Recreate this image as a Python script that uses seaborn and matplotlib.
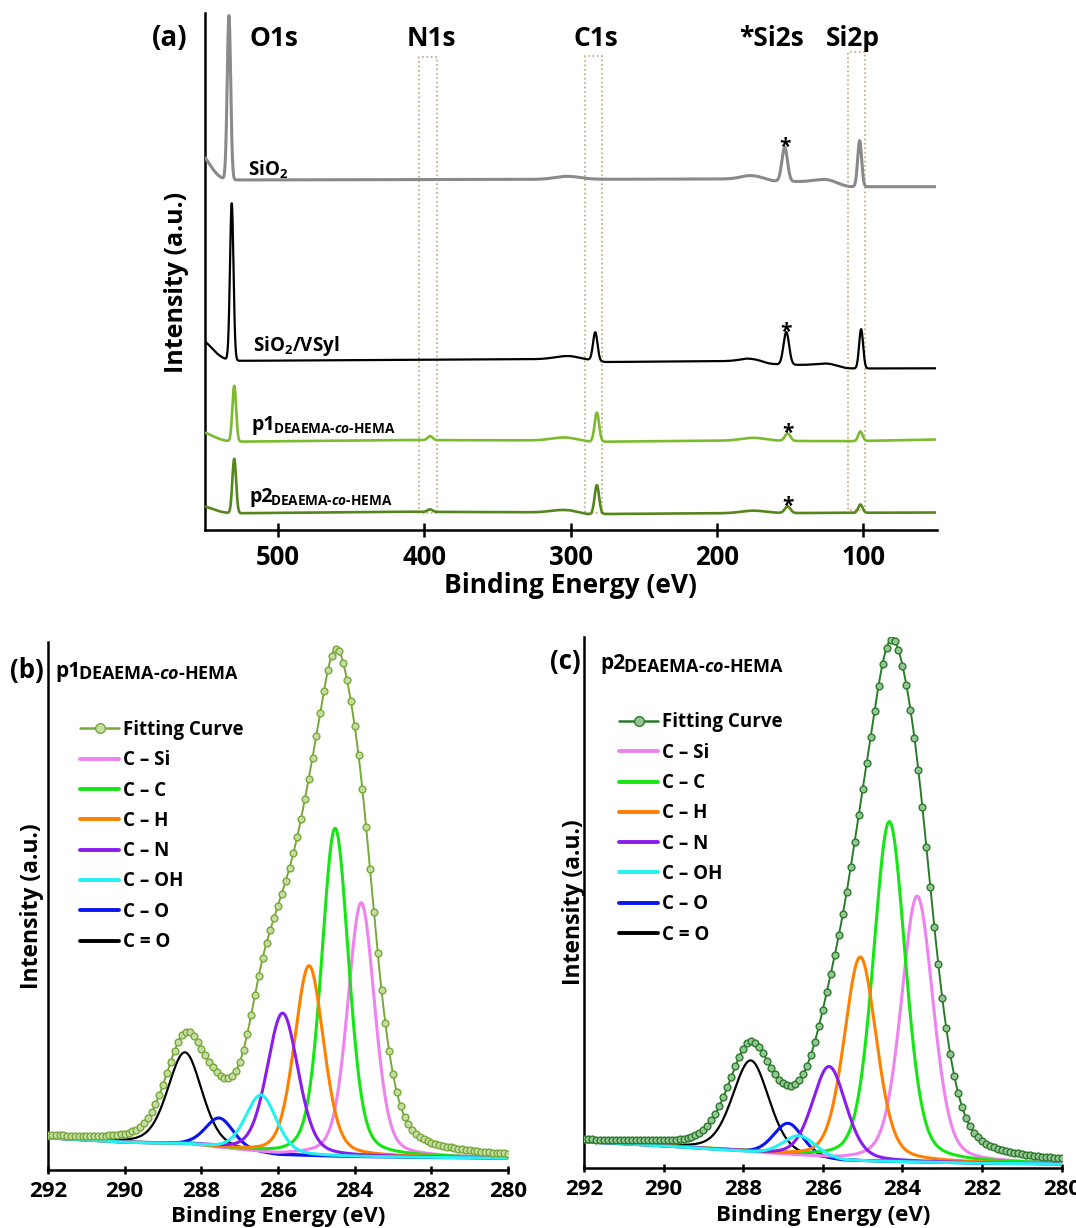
import numpy as np
import pandas as pd
import matplotlib
matplotlib.use("Agg")
import matplotlib.pyplot as plt
import seaborn as sns
from matplotlib.lines import Line2D
from matplotlib.patches import Rectangle

sns.set_theme(style="white")
plt.rcParams.update({
    "font.family": ["Open Sans", "DejaVu Sans"],
    "font.weight": "bold",
    "axes.labelweight": "bold",
    "mathtext.fontset": "custom",
    "mathtext.rm": "Open Sans:bold",
    "mathtext.bf": "Open Sans:bold",
    "mathtext.it": "Open Sans:italic:bold",
    "axes.edgecolor": "black",
    "axes.linewidth": 1.8,
    "xtick.color": "black",
    "text.color": "black",
    "axes.labelcolor": "black",
})

# ---------------------------------------------------------------- survey (a)
# baseline anchors (binding energy eV, intensity) and peaks (centre, height, FWHM)
sio2_bg_e = [550, 180, 163, 135, 110, 50]
sio2_bg_i = [350, 351, 348.5, 348.5, 343.3, 343.3]
sio2_pk_e = [553, 533.3, 302, 175, 153.7, 124.7, 102.5]
sio2_pk_h = [25, 164, 3, 4, 34, 4, 46]
sio2_pk_w = [16, 2.8, 20, 18, 4.5, 15, 3.2]

vsyl_bg_e = [550, 300, 290, 276, 180, 165, 135, 112, 50]
vsyl_bg_i = [169, 171, 170, 168, 169, 165.5, 165, 161.5, 161.7]
vsyl_pk_e = [553, 531.4, 302, 283.1, 175, 152.6, 124, 101.5]
vsyl_pk_h = [21, 157, 3, 28.5, 3, 32.5, 3, 39.3]
vsyl_pk_w = [19, 2.8, 20, 3.6, 18, 4.5, 15, 3.2]

p1_bg_e = [550, 530, 420, 300, 288, 278, 200, 110, 50]
p1_bg_i = [88, 88.3, 90, 89.5, 88.3, 88.3, 89.3, 88.8, 90.5]
p1_pk_e = [553, 529.7, 395.9, 304.8, 282.0, 175, 151.7, 102.0]
p1_pk_h = [10, 55.7, 4, 3, 29, 3, 7.4, 9.5]
p1_pk_w = [20, 3.0, 4, 20, 3.6, 20, 4.5, 3.5]

p2_bg_e = [550, 530, 420, 300, 288, 278, 200, 50]
p2_bg_i = [16, 16.7, 18.3, 17.5, 15.5, 16, 16.7, 17.5]
p2_pk_e = [553, 529.7, 396.0, 305.0, 282.0, 175, 151.7, 102.0]
p2_pk_h = [8, 54.3, 2.5, 2.5, 29, 2.5, 6.6, 8.3]
p2_pk_w = [20, 3.0, 4, 20, 3.6, 20, 4.5, 3.5]

survey_colors = ["#8a8a8a", "#000000", "#7cbb2e", "#55861c"]
survey_lw = [2.2, 1.6, 1.9, 1.9]
si2s_index = [4, 5, 6, 6]

peak_names = ["O1s", "N1s", "C1s", "*Si2s", "Si2p"]
peak_name_e = [502.5, 395.0, 282.8, 163.0, 107.4]
# dotted marker boxes: (low eV, high eV, bottom, top)
box_lo = [391.0, 278.3, 98.6]
box_hi = [403.4, 290.0, 110.2]
box_bottom = [17, 17, 20]
box_top = [473.3, 474.3, 477.7]

# ---------------------------------------------------------------- C1s fits (b), (c)
comp_labels = ["C – Si", "C – C", "C – H", "C – N", "C – OH", "C – O", "C = O"]
comp_colors = ["#ee82ee", "#14e614", "#ff8000", "#8a1cf0", "#22f2f2", "#0a14f0", "#000000"]
comp_lw = [2.2, 2.2, 2.2, 2.2, 2.2, 2.2, 1.6]

b_center = [283.83, 284.51, 285.19, 285.88, 286.44, 287.53, 288.43]
b_height = [254, 328, 190, 142, 58, 30, 92]
b_fwhm = [0.83, 0.83, 0.90, 0.96, 0.96, 0.88, 1.05]
b_bg_e = [292, 290, 288.3, 286, 284, 280]
b_bg_i = [32, 27.5, 25.5, 15, 13.3, 11.7]
b_env_height = [240, 320, 175, 135, 70, 30, 96]
b_env_fwhm = [1.15, 1.12, 1.25, 1.35, 0.95, 1.2, 1.2]

c_center = [283.63, 284.33, 285.06, 285.84, 286.59, 286.87, 287.81]
c_height = [266, 340, 204, 93, 21, 32.5, 92]
c_fwhm = [0.95, 0.95, 0.96, 1.0, 1.0, 0.88, 1.08]
c_bg_e = [292, 290, 288.3, 285.5, 282, 280]
c_bg_i = [26.6, 22.3, 17.6, 7.6, 5, 4.3]
c_env_height = [258, 318, 188, 80, 5, 10, 100]
c_env_fwhm = [1.3, 1.2, 1.3, 1.25, 1.0, 0.9, 1.3]

ETA = 0.3  # Lorentzian fraction of the pseudo-Voigt line shape


def gauss(e, c, h, w):
    return h * np.exp(-4 * np.log(2) * ((e - c) / w) ** 2)


def pvoigt(e, c, h, w, eta=ETA):
    x = (e - c) / w
    return h * ((1 - eta) * np.exp(-4 * np.log(2) * x ** 2) + eta / (1 + 4 * x ** 2))


def baseline(e, be, bi):
    be = np.asarray(be, float)
    bi = np.asarray(bi, float)
    order = np.argsort(be)
    return np.interp(e, be[order], bi[order])


W, H = 1076, 1228
fig = plt.figure(figsize=(W / 100, H / 100), dpi=100)


def place_axes(x0, x1, ytop, ybot):
    return fig.add_axes([x0 / W, 1 - ybot / H, (x1 - x0) / W, (ybot - ytop) / H])


ax_a = place_axes(204.5, 936.5, 13, 530)
ax_b = place_axes(48, 508, 642, 1170)
ax_c = place_axes(584, 1061.7, 637, 1168.3)

# ------------------------------------------------------------------ panel (a)
e_survey = np.linspace(550, 50, 5001)
spectra = []
for be, bi, pe, ph, pw in [(sio2_bg_e, sio2_bg_i, sio2_pk_e, sio2_pk_h, sio2_pk_w),
                           (vsyl_bg_e, vsyl_bg_i, vsyl_pk_e, vsyl_pk_h, vsyl_pk_w),
                           (p1_bg_e, p1_bg_i, p1_pk_e, p1_pk_h, p1_pk_w),
                           (p2_bg_e, p2_bg_i, p2_pk_e, p2_pk_h, p2_pk_w)]:
    y = baseline(e_survey, be, bi)
    for c, h, w in zip(pe, ph, pw):
        y = y + gauss(e_survey, c, h, w)
    spectra.append((y, pe))

for lo, hi, bo, to in zip(box_lo, box_hi, box_bottom, box_top):
    ax_a.add_patch(Rectangle((lo, bo), hi - lo, to - bo, fill=False, ls=":",
                             lw=1.2, ec="#bfa57c", zorder=1))

for (y, pe), col, lw, k in zip(spectra, survey_colors, survey_lw, si2s_index):
    sns.lineplot(x=e_survey, y=y, ax=ax_a, color=col, lw=lw, sort=False,
                 estimator=None, legend=False, zorder=3)
    c = pe[k]
    top = np.interp(-c, -e_survey, y)
    ax_a.annotate("*", xy=(c, top), xytext=(0, -4), textcoords="offset points",
                  ha="center", va="baseline", fontsize=15, fontweight="bold")

for name, e in zip(peak_names, peak_name_e):
    ax_a.text(e, 484, name, ha="center", va="baseline", fontsize=19, fontweight="bold")

ax_a.text(520.5, 354.3, "SiO$_2$", fontsize=13.5, ha="left", va="baseline")
ax_a.text(516.7, 179, "SiO$_2$/VSyl", fontsize=13.5, ha="left", va="baseline")
for e, v, num in [(517.8, 100, "p1"), (519.6, 28.3, "p2")]:
    t = ax_a.text(e, v, num, fontsize=14, ha="left", va="baseline")
    ax_a.annotate(r"DEAEMA-$\mathit{co}$-HEMA", xy=(1, 0), xycoords=t,
                  xytext=(-1.5, -1.0), textcoords="offset points",
                  fontsize=9.8, ha="left", va="bottom")

ax_a.set_xlim(550, 50)
ax_a.set_ylim(0, 517)
ax_a.set_xticks([500, 400, 300, 200, 100])
ax_a.set_yticks([])
ax_a.tick_params(axis="x", direction="inout", length=10, width=1.8, labelsize=18.5, pad=5,
                 bottom=True)
ax_a.set_xlabel("Binding Energy (eV)", fontsize=19, labelpad=1)
ax_a.set_ylabel("Intensity (a.u.)", fontsize=18)
ax_a.yaxis.label.set_va("center")
ax_a.yaxis.set_label_coords(-0.0376, 0.479)
for s in ["top", "right"]:
    ax_a.spines[s].set_visible(False)

# ------------------------------------------------------------ panels (b), (c)
e_fine = np.linspace(292, 280, 1201)
e_mark = np.round(np.linspace(292, 280, 121), 2)


def fit_panel(ax, centers, heights, fwhms, bg_e, bg_i, env_h, env_w,
              env_color, env_face, ytop, leg_anchor, label_x):
    bg_f = baseline(e_fine, bg_e, bg_i)
    bg_m = baseline(e_mark, bg_e, bg_i)
    env_f = bg_f.copy()
    env_m = bg_m.copy()
    for c, h, w in zip(centers, env_h, env_w):
        env_f += pvoigt(e_fine, c, h, w)
        env_m += pvoigt(e_mark, c, h, w)
    sns.lineplot(x=e_fine, y=env_f, ax=ax, color=env_color, lw=1.4, sort=False,
                 estimator=None, legend=False, zorder=2)
    order = [6, 5, 0, 1, 2, 3, 4]
    for i in order:
        comp = bg_f + pvoigt(e_fine, centers[i], heights[i], fwhms[i])
        sns.lineplot(x=e_fine, y=comp, ax=ax, color=comp_colors[i], lw=comp_lw[i],
                     sort=False, estimator=None, legend=False, zorder=3)
    sns.scatterplot(x=e_mark, y=env_m, ax=ax, s=24, color=env_face,
                    edgecolor=env_color, linewidth=1.0, legend=False, zorder=4)

    handles = [Line2D([], [], color=env_color, lw=1.8, marker="o", ms=7,
                      mfc=env_face, mec=env_color, mew=1.0)]
    for col in comp_colors:
        handles.append(Line2D([], [], color=col, lw=2.8))
    ax.legend(handles, ["Fitting Curve"] + comp_labels, loc="upper left",
              bbox_to_anchor=leg_anchor, frameon=False, fontsize=13.5,
              handlelength=2.1, handletextpad=0.2, labelspacing=0.55,
              borderpad=0, borderaxespad=0)

    ax.set_xlim(292, 280)
    ax.set_ylim(0, ytop)
    ax.set_xticks([292, 290, 288, 286, 284, 282, 280])
    ax.set_yticks([])
    ax.tick_params(axis="x", direction="inout", length=6, width=1.8, labelsize=16, pad=5,
                   bottom=True)
    ax.set_xlabel("Binding Energy (eV)", fontsize=16, labelpad=3)
    ax.set_ylabel("Intensity (a.u.)", fontsize=16.5)
    ax.yaxis.label.set_va("center")
    ax.yaxis.set_label_coords(label_x, 0.5)
    for s in ["top", "right"]:
        ax.spines[s].set_visible(False)


fit_panel(ax_b, b_center, b_height, b_fwhm, b_bg_e, b_bg_i, b_env_height, b_env_fwhm,
          "#78a83a", "#c6dda2", 528, (0.0696, 0.8525), -0.035)
fit_panel(ax_c, c_center, c_height, c_fwhm, c_bg_e, c_bg_i, c_env_height, c_env_fwhm,
          "#2b7a2b", "#95c495", 531.3, (0.0733, 0.858), -0.021)

# titles of the fit panels
for ax, x_px, base_px, num in [(ax_b, 55, 676.7, "p1"), (ax_c, 600, 669.3, "p2")]:
    t = fig.text(x_px / W, 1 - base_px / H, num, fontsize=15, ha="left", va="baseline")
    ax.annotate(r"DEAEMA-$\mathit{co}$-HEMA", xy=(1, 0), xycoords=t,
                xytext=(-1.5, -1.0), textcoords="offset points",
                fontsize=13, ha="left", va="bottom", annotation_clip=False)

# panel letters
fig.text(151.7 / W, 1 - 46 / H, "(a)", fontsize=20, ha="left", va="baseline")
fig.text(10 / W, 1 - 678.3 / H, "(b)", fontsize=18.5, ha="left", va="baseline")
fig.text(550 / W, 1 - 669.3 / H, "(c)", fontsize=18.5, ha="left", va="baseline")

fig.savefig("out.png", dpi=100)
